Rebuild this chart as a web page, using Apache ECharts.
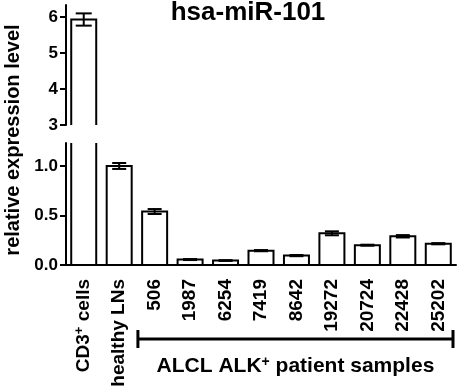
<!DOCTYPE html>
<html lang="en">
<head>
    <meta charset="UTF-8">
    <title>hsa-miR-101</title>
    <script src="https://cdn.jsdelivr.net/npm/echarts@6/dist/echarts.min.js"></script>
    <style>
        html, body { margin: 0; background: #fff; }
        #main { width: 460px; height: 391px; }
    </style>
</head>
<body>
<div id="main"></div>
<script>
    // data
    var categories = ['CD3+ cells', 'healthy LNs', '506', '1987', '6254', '7419', '8642', '19272', '20724', '22428', '25202'];
    var values = [5.93, 1.00, 0.54, 0.055, 0.045, 0.145, 0.095, 0.32, 0.20, 0.29, 0.215];
    var errors = [0.17, 0.03, 0.025, 0.005, 0.004, 0.006, 0.006, 0.02, 0.005, 0.012, 0.006];
    var topTicks = [3, 4, 5, 6];
    var bottomTicks = [0, 0.5, 1.0];
    var patientFrom = '506', patientTo = '25202';

    var font = "'Liberation Sans', Arial, sans-serif";
    var chart = echarts.init(document.getElementById('main'));

    // bar + error bar, open at the broken edge
    function renderBar(params, api) {
        var i = api.value(0), v = api.value(1), e = api.value(2);
        var cs = params.coordSys;
        var yTop = cs.y, yBot = cs.y + cs.height;
        var c = api.coord([i, v]);
        var base = api.coord([i, 0]);
        var half = 12.5, cap = i === 0 ? 8 : 7;
        var x0 = c[0] - half, x1 = c[0] + half;
        var yb = Math.min(base[1], yBot);
        var cut = c[1] < yTop;
        var yt = Math.max(c[1], yTop);
        var st = { stroke: '#000', lineWidth: 2, fill: null };
        var kids = [];
        if (!cut) {
            kids.push({ type: 'polyline', shape: { points: [[x0, yb], [x0, yt], [x1, yt], [x1, yb]] }, style: st });
            if (e > 0) {
                var hi = api.coord([i, v + e])[1], lo = api.coord([i, v - e])[1];
                kids.push({ type: 'line', shape: { x1: c[0], y1: hi, x2: c[0], y2: lo }, style: st });
                kids.push({ type: 'line', shape: { x1: c[0] - cap, y1: hi, x2: c[0] + cap, y2: hi }, style: st });
                kids.push({ type: 'line', shape: { x1: c[0] - cap, y1: lo, x2: c[0] + cap, y2: lo }, style: st });
            }
        } else {
            kids.push({ type: 'line', shape: { x1: x0, y1: yb, x2: x0, y2: yt }, style: st });
            kids.push({ type: 'line', shape: { x1: x1, y1: yb, x2: x1, y2: yt }, style: st });
        }
        return { type: 'group', children: kids };
    }

    var topMin = topTicks[0];
    var topData = [], bottomData = [];
    values.forEach(function (v, i) {
        if (v > topMin) topData.push([i, v, errors[i]]);
        bottomData.push([i, v, errors[i]]);
    });

    var axisLine = { lineStyle: { color: '#000', width: 2 } };
    var yLabel = { color: '#000', fontSize: 17, fontWeight: 'bold', fontFamily: font, margin: 8 };

    var option = {
        animation: false,
        backgroundColor: '#fff',
        title: {
            text: 'hsa-miR-101',
            left: 248, top: 0, textAlign: 'center', padding: 0,
            textStyle: { fontSize: 26, fontWeight: 'bold', fontFamily: font, color: '#000' }
        },
        grid: [
            { left: 66, width: 390, top: 5, height: 120 },
            { left: 66, width: 390, top: 143, height: 122 }
        ],
        xAxis: [
            { type: 'category', gridIndex: 0, data: categories, show: false },
            {
                type: 'category', gridIndex: 1, data: categories,
                axisLine: axisLine,
                axisTick: { alignWithLabel: true, length: 7, lineStyle: { color: '#000', width: 2 } },
                axisLabel: {
                    rotate: 90, interval: 0, margin: 14,
                    color: '#000', fontSize: 19, fontWeight: 'bold', fontFamily: font,
                    formatter: function (name) {
                        if (name === 'CD3+ cells') return '{n|CD3}{s|+}{n| cells}';
                        return '{n|' + name + '}';
                    },
                    rich: {
                        n: { fontSize: 19, fontWeight: 'bold', fontFamily: font, color: '#000', lineHeight: 21 },
                        s: { fontSize: 13, fontWeight: 'bold', fontFamily: font, color: '#000', lineHeight: 12, verticalAlign: 'top' }
                    }
                }
            }
        ],
        yAxis: [
            {
                type: 'value', gridIndex: 0, min: 3, max: 6.333, interval: 1,
                splitLine: { show: false },
                axisLine: { show: true, lineStyle: { color: '#000', width: 2 } },
                axisTick: { show: true, length: 6, customValues: topTicks, lineStyle: { color: '#000', width: 2 } },
                axisLabel: Object.assign({ customValues: topTicks }, yLabel)
            },
            {
                type: 'value', gridIndex: 1, min: 0, max: 1.232, interval: 0.5,
                splitLine: { show: false },
                axisLine: { show: true, lineStyle: { color: '#000', width: 2 } },
                axisTick: { show: true, length: 6, customValues: bottomTicks, lineStyle: { color: '#000', width: 2 } },
                axisLabel: Object.assign({
                    customValues: bottomTicks,
                    formatter: function (v) { return v.toFixed(1); }
                }, yLabel)
            }
        ],
        graphic: [
            {
                id: 'yname', type: 'text', x: 13, y: 140, rotation: Math.PI / 2,
                style: {
                    text: 'relative expression level', textAlign: 'center', textVerticalAlign: 'middle',
                    font: 'bold 20px ' + font, fill: '#000'
                }
            }
        ],
        series: [
            {
                type: 'custom', xAxisIndex: 0, yAxisIndex: 0,
                renderItem: renderBar, encode: { x: 0, y: 1 }, data: topData
            },
            {
                type: 'custom', xAxisIndex: 1, yAxisIndex: 1,
                renderItem: renderBar, encode: { x: 0, y: 1 }, data: bottomData
            }
        ]
    };
    chart.setOption(option);

    // bracket under the patient samples
    var iA = categories.indexOf(patientFrom), iB = categories.indexOf(patientTo);
    var pA = chart.convertToPixel({ xAxisIndex: 1 }, iA);
    var pB = chart.convertToPixel({ xAxisIndex: 1 }, iB);
    var band = chart.convertToPixel({ xAxisIndex: 1 }, iA + 1) - pA;
    var bx0 = pA - band / 2 + 1, bx1 = pB + band / 2 - 3;
    var by = 339;
    var bst = { stroke: '#000', lineWidth: 3 };
    chart.setOption({
        graphic: [
            { id: 'br', type: 'line', shape: { x1: bx0, y1: by, x2: bx1, y2: by }, style: bst },
            { id: 'brL', type: 'line', shape: { x1: bx0, y1: by - 9, x2: bx0, y2: by + 9 }, style: bst },
            { id: 'brR', type: 'line', shape: { x1: bx1, y1: by - 9, x2: bx1, y2: by + 9 }, style: bst },
            {
                id: 'brText', type: 'text', x: (bx0 + bx1) / 2, y: 366,
                style: {
                    text: '{n|ALCL ALK}{s|+}{n| patient samples}',
                    textAlign: 'center', textVerticalAlign: 'middle',
                    rich: {
                        n: { fontSize: 21, fontWeight: 'bold', fontFamily: font, fill: '#000', lineHeight: 22 },
                        s: { fontSize: 14, fontWeight: 'bold', fontFamily: font, fill: '#000', lineHeight: 14, verticalAlign: 'top' }
                    }
                }
            }
        ]
    });
</script>
</body>
</html>
